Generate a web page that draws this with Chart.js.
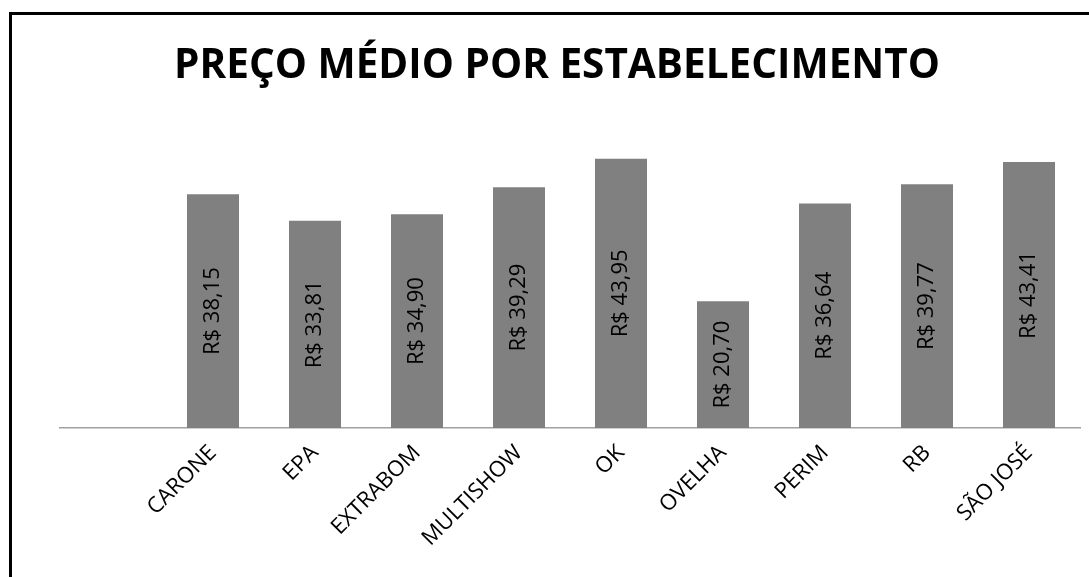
<!DOCTYPE html>
<html>
<head>
<meta charset="utf-8">
<script src="https://cdn.jsdelivr.net/npm/chart.js@4"></script>
<style>
  body { margin: 0; background: #fff; overflow: hidden; }
  #chart { position: absolute; left: 0; top: 0; }
  .frame {
    position: absolute; left: 9px; top: 12px; width: 2000px; height: 2000px;
    border-left: 3px solid #000; border-top: 3px solid #000; pointer-events: none;
  }
</style>
</head>
<body>
<canvas id="chart" width="1089" height="577"></canvas>
<div class="frame"></div>
<script>
// Store names (first slot is empty in the original sheet)
const stores = ['', 'CARONE', 'EPA', 'EXTRABOM', 'MULTISHOW', 'OK', 'OVELHA', 'PERIM', 'RB', 'SÃO JOSÉ'];
// Average price per store, R$
const avgPrice = [null, 38.15, 33.81, 34.90, 39.29, 43.95, 20.70, 36.64, 39.77, 43.41];
const titleText = 'PREÇO MÉDIO POR ESTABELECIMENTO';

// Draw the value inside each bar, rotated
const barLabels = {
  id: 'barLabels',
  afterDatasetsDraw(chart) {
    const ctx = chart.ctx;
    const meta = chart.getDatasetMeta(0);
    meta.data.forEach((bar, i) => {
      const v = avgPrice[i];
      if (v === null || v === undefined) return;
      const text = 'R$ ' + v.toFixed(2).replace('.', ',');
      ctx.save();
      ctx.translate(bar.x, (bar.y + bar.base) / 2);
      ctx.rotate(-Math.PI / 2);
      ctx.font = '22px "Open Sans"';
      ctx.fillStyle = '#000';
      ctx.textAlign = 'center';
      ctx.textBaseline = 'middle';
      ctx.fillText(text, 0, 0);
      ctx.restore();
    });
  }
};

const ctx = document.getElementById('chart').getContext('2d');
new Chart(ctx, {
  type: 'bar',
  data: {
    labels: stores,
    datasets: [{
      data: avgPrice,
      backgroundColor: '#808080',
      borderWidth: 0,
      barPercentage: 0.51,
      categoryPercentage: 1
    }]
  },
  options: {
    responsive: false,
    animation: false,
    layout: { padding: { left: 34, right: 9, top: 0, bottom: 0 } },
    plugins: {
      legend: { display: false },
      tooltip: { enabled: false },
      title: {
        display: true,
        text: titleText,
        color: '#000',
        font: { family: '"Open Sans"', size: 40.5, weight: 'bold' },
        padding: { top: 42, bottom: 31 }
      }
    },
    scales: {
      x: {
        grid: { display: false, drawTicks: false },
        border: { display: true, color: '#a0a0a0', width: 1.5 },
        ticks: {
          color: '#000',
          font: { family: '"Open Sans"', size: 22 },
          minRotation: 45,
          maxRotation: 45,
          autoSkip: false,
          padding: 12
        },
        afterFit(scale) { scale.height = 149; }
      },
      y: {
        // hidden axis, only keeps the plot starting at x=60
        min: 0,
        max: 50,
        grid: { display: false },
        border: { display: false },
        ticks: { display: false },
        afterFit(scale) { scale.width = 26; }
      }
    }
  },
  plugins: [barLabels]
});
</script>
</body>
</html>
